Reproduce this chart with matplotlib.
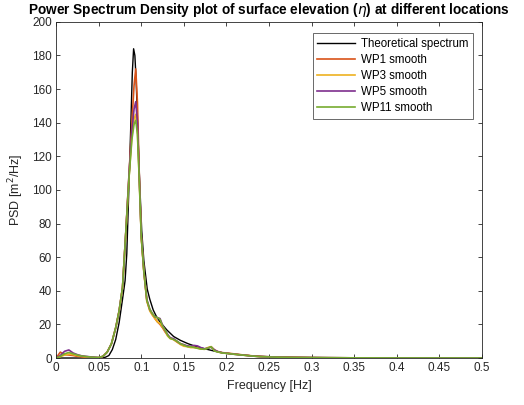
import numpy as np
import matplotlib
matplotlib.use('Agg')
import matplotlib.pyplot as plt

plt.rcParams['font.family'] = ['Liberation Sans', 'DejaVu Sans']

# theoretical spectrum
f_theory = [0, 0.05, 0.054, 0.058, 0.062, 0.066, 0.07, 0.074, 0.078, 0.081, 0.083, 0.0857,
            0.0875, 0.0895, 0.091, 0.0925, 0.094, 0.096, 0.098, 0.1005, 0.103, 0.107, 0.11,
            0.114, 0.118, 0.122, 0.13, 0.138, 0.146, 0.155, 0.165, 0.177, 0.19, 0.2, 0.215,
            0.232, 0.25, 0.28, 0.32, 0.38, 0.45, 0.5]
psd_theory = [0, 0, 0.05, 0.5, 1.5, 5, 11, 21, 35, 46, 62, 105,
              135, 170, 184, 180, 165, 135, 106, 76, 58, 41, 35,
              28.6, 24.5, 21.5, 16.7, 12.8, 10.5, 8.5, 6.7, 5.2, 3.6, 2.8, 2.0,
              1.2, 0.8, 0.45, 0.25, 0.12, 0.06, 0.04]

# smoothed spectra at the wave probes
f_wp = [0, 0.005, 0.01, 0.015, 0.02, 0.025, 0.03, 0.035, 0.04, 0.045, 0.05, 0.055, 0.06,
        0.065, 0.07, 0.074, 0.078, 0.082, 0.0857, 0.089, 0.0915, 0.0935, 0.0955, 0.0975,
        0.1, 0.103, 0.1065, 0.11, 0.113, 0.116, 0.119, 0.122, 0.125, 0.128, 0.131, 0.134,
        0.138, 0.142, 0.146, 0.15, 0.154, 0.158, 0.162, 0.166, 0.17, 0.174, 0.178, 0.182,
        0.186, 0.19, 0.195, 0.2, 0.21, 0.22, 0.23, 0.24, 0.26, 0.28, 0.3, 0.35, 0.4, 0.45, 0.5]
psd_wp1 = [0, 3.5, 2.0, 1.8, 1.5, 1.0, 0.7, 0.5, 0.4, 0.3, 0.2, 1.0, 3.5,
           8.5, 18, 28, 42, 76, 110, 140, 162, 172, 152, 112,
           72, 52, 34, 28.5, 26, 23.5, 21.5, 20, 18, 15.5, 13.5, 12,
           11, 9.5, 8.5, 7.5, 7.0, 6.5, 6.5, 6.0, 5.5, 5.3, 6.0, 6.6,
           4.8, 3.8, 3.2, 3.0, 2.4, 1.8, 1.3, 0.9, 0.55, 0.35, 0.2, 0.1, 0.06, 0.04, 0.03]
psd_wp3 = [0, 0.8, 1.8, 2.4, 2.0, 1.4, 1.0, 0.7, 0.5, 0.3, 0.2, 1.0, 3.5,
           8.5, 18, 28, 42, 76, 108, 132, 142, 145, 135, 108,
           72, 51, 34, 28, 25.5, 23.5, 21.5, 20.5, 18.5, 16, 13, 11.5,
           11, 9.5, 8, 7.0, 6.8, 6.2, 6.2, 5.8, 5.4, 5.2, 6.2, 6.8,
           4.5, 3.6, 3.0, 2.8, 2.2, 1.7, 1.2, 0.8, 0.5, 0.3, 0.2, 0.1, 0.06, 0.04, 0.03]
psd_wp5 = [0, 1.5, 4.0, 4.8, 3.0, 2.0, 1.3, 1.0, 0.7, 0.5, 0.3, 1.0, 3.5,
           8.5, 18, 28, 42, 76, 110, 135, 148, 152.5, 140, 110,
           73, 52, 35, 29, 26.5, 24.5, 24, 23.5, 19.5, 16.5, 14, 12,
           11.5, 10, 8.5, 8.0, 7.2, 7.0, 7.5, 7.2, 6.2, 5.5, 5.8, 6.5,
           4.8, 3.8, 3.1, 2.8, 2.2, 1.7, 1.2, 0.8, 0.5, 0.3, 0.2, 0.1, 0.06, 0.04, 0.03]
psd_wp11 = [0, 1.0, 2.5, 3.3, 2.5, 1.8, 1.2, 0.9, 0.6, 0.4, 0.3, 1.0, 3.5,
            8.5, 18, 28, 42, 76, 108, 130, 139, 141.5, 133, 108,
            72, 52, 34.5, 29, 26.5, 24.6, 24, 23, 19, 16.7, 13.5, 11.7,
            11, 10, 8.5, 7.7, 6.8, 6.7, 6.3, 5.8, 5.4, 5.2, 5.8, 6.7,
            4.2, 3.6, 3.0, 2.8, 2.2, 1.7, 1.2, 0.8, 0.5, 0.3, 0.2, 0.1, 0.06, 0.04, 0.03]

labels = ['Theoretical spectrum', 'WP1 smooth', 'WP3 smooth', 'WP5 smooth', 'WP11 smooth']
colors = ['k', '#D95319', '#EDB120', '#7E2F8E', '#77AC30']

fig = plt.figure(figsize=(5.24, 4.05), dpi=100)
ax = fig.add_axes([0.107, 0.116, 0.813, 0.830])

ax.plot(f_theory, psd_theory, color=colors[0], lw=1.0, label=labels[0])
for psd, lab, c in zip([psd_wp1, psd_wp3, psd_wp5, psd_wp11], labels[1:], colors[1:]):
    ax.plot(f_wp, psd, color=c, lw=1.2, label=lab)

ax.set_xlim(0, 0.5)
ax.set_ylim(0, 200)
ax.set_xticks(np.arange(0, 0.501, 0.05))
ax.set_xticklabels(['0', '0.05', '0.1', '0.15', '0.2', '0.25', '0.3', '0.35', '0.4', '0.45', '0.5'])
ax.set_yticks(np.arange(0, 201, 20))

grey = '#262626'
for s in ax.spines.values():
    s.set_color(grey)
    s.set_linewidth(0.6)
ax.tick_params(direction='in', top=True, right=True, length=3, width=0.6,
               colors=grey, labelsize=8.5, pad=3)

ax.set_xlabel('Frequency [Hz]', fontsize=9, color=grey)
ax.set_ylabel('PSD [m$^2$/Hz]', fontsize=9, color=grey)
ax.set_title(r'Power Spectrum Density plot of surface elevation ($\eta$) at different locations',
             fontsize=9.8, fontweight='bold', pad=6)

leg = ax.legend(loc='upper right', bbox_to_anchor=(0.979, 0.967), borderaxespad=0,
                fontsize=8.3, frameon=True, fancybox=False, edgecolor=grey,
                handlelength=3.3, borderpad=0.4, labelspacing=0.36, handletextpad=0.5)
leg.get_frame().set_linewidth(0.6)

fig.savefig('out.png', dpi=100)
